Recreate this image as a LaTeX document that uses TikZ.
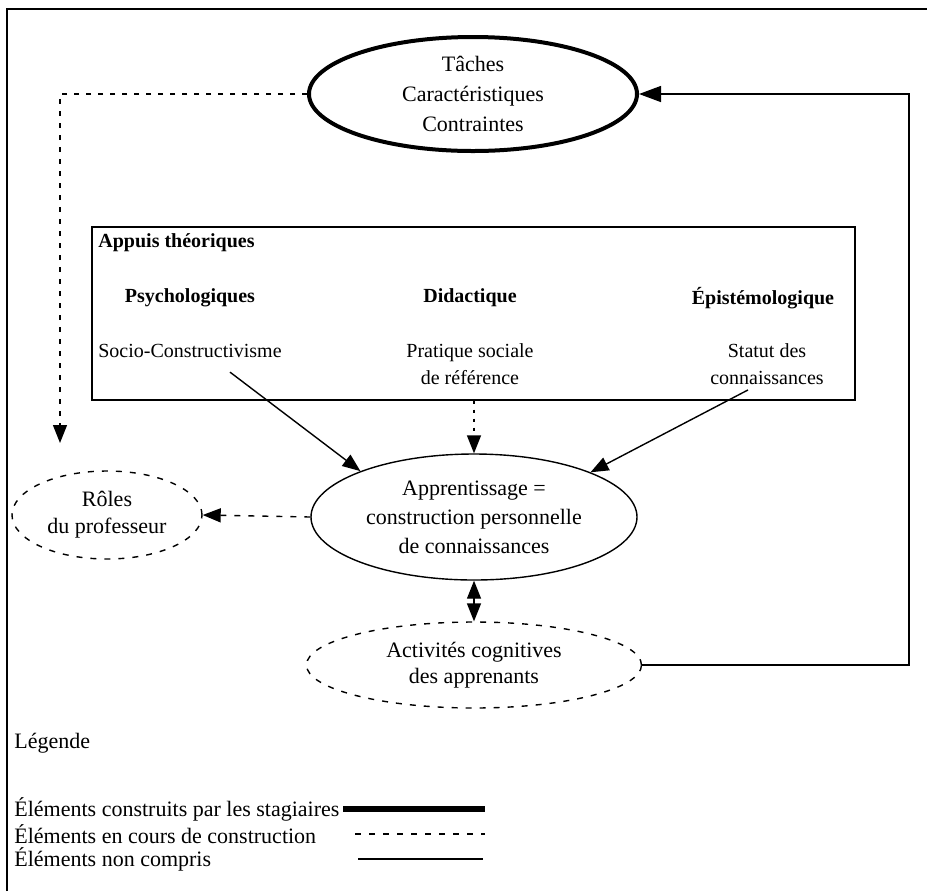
\documentclass[tikz,border=0pt]{standalone}
\usepackage{fontspec}
\setmainfont{Liberation Serif}
\usetikzlibrary{shapes.geometric,arrows.meta}

\tikzset{
  txt/.style={font=\fontsize{11}{14}\selectfont, align=center, inner sep=1pt},
  boxtxt/.style={font=\fontsize{10}{13.5}\selectfont, align=center, inner sep=1pt},
  boxhead/.style={font=\fontsize{10}{13.5}\selectfont\bfseries, inner sep=1pt},
  oval/.style={ellipse, draw, line width=.7pt, txt, inner sep=0pt},
  dashoval/.style={oval, dash pattern=on 3pt off 4pt},
  arr/.style={-{Triangle[length=9pt,width=7pt]}, line width=.7pt},
  bigarr/.style={-{Triangle[length=11pt,width=8pt]}, line width=.7pt},
  dsh/.style={dash pattern=on 3pt off 4pt},
  dots/.style={dash pattern=on 1.5pt off 3pt},
}

\begin{document}
\begin{tikzpicture}[x=.5pt,y=-.5pt]
\useasboundingbox (0,0) rectangle (927,891);
% Frame
\draw[line width=1pt] (7,891) -- (7,9) -- (927,9);
% Tasks
\node[oval, line width=2pt, font=\fontsize{11}{15}\selectfont,
  minimum width=164pt, minimum height=57pt] (taches) at (473,94)
  {Tâches\\Caractéristiques\\Contraintes};
% Theoretical supports
\node[draw, line width=.7pt, minimum width=381.5pt, minimum height=86.5pt]
  (appuis) at (473.5,313.5) {};
\node[boxhead, anchor=west] (titre) at (96,243) {Appuis théoriques};
\node[boxhead] (psy) at (190,298) {Psychologiques};
\node[boxhead] (did) at (470,298) {Didactique};
\node[boxhead] (epi) at (763,298) {Épistémologique};
\node[boxtxt] (socio) at (190,351) {Socio-Constructivisme};
\node[boxtxt] (pratique) at (470,364) {Pratique sociale\\de référence};
\node[boxtxt] (statut) at (767,364) {Statut des\\connaissances};
% Learning
\node[oval, font=\fontsize{11}{14.5}\selectfont,
  minimum width=163pt, minimum height=63pt] (appr) at (474,517)
  {Apprentissage =\\construction personnelle\\de connaissances};
\node[dashoval, font=\fontsize{11}{13.5}\selectfont,
  minimum width=95pt, minimum height=44pt] (roles) at (107,515)
  {Rôles\\du professeur};
\node[dashoval, font=\fontsize{11}{13}\selectfont,
  minimum width=167.5pt, minimum height=43pt] (activ) at (474,665)
  {Activités cognitives\\des apprenants};
% Connectors
\coordinate (rolestop) at (60,443);
\coordinate (rline) at (909,0);
\draw[arr, dsh, dash pattern=on 2.5pt off 3.5pt] (taches.west) -| (rolestop);
\draw[arr] ([shift={(40,12)}]socio.south) -- (appr.158);
\draw[arr] ([shift={(-19,3)}]statut.south) -- (appr.21);
\draw[arr, dots] (appr.north |- appuis.south) -- (appr.north);
\draw[arr, dsh] (appr.west) -- (roles.east);
\draw[{Triangle[length=9pt,width=7pt]}-{Triangle[length=9pt,width=7pt]}, line width=.7pt]
  (appr.south) -- (activ.north);
\draw[bigarr] (activ.east) -| (rline |- taches.east) -- (taches.east);
% Legend
\node[txt, anchor=west] (legende) at (12,743) {Légende};
\node[txt, anchor=west] (leg1) at (12,809) {Éléments construits par les stagiaires};
\node[txt, anchor=west] (leg2) at (12,834) {Éléments en cours de construction};
\node[txt, anchor=west] (leg3) at (12,859) {Éléments non compris};
\draw[line width=3pt] (343,809) -- (485,809);
\draw[line width=.8pt, dsh] (355,834) -- (485,834);
\draw[line width=.6pt] (358,859) -- (483,859);
\end{tikzpicture}
\end{document}
